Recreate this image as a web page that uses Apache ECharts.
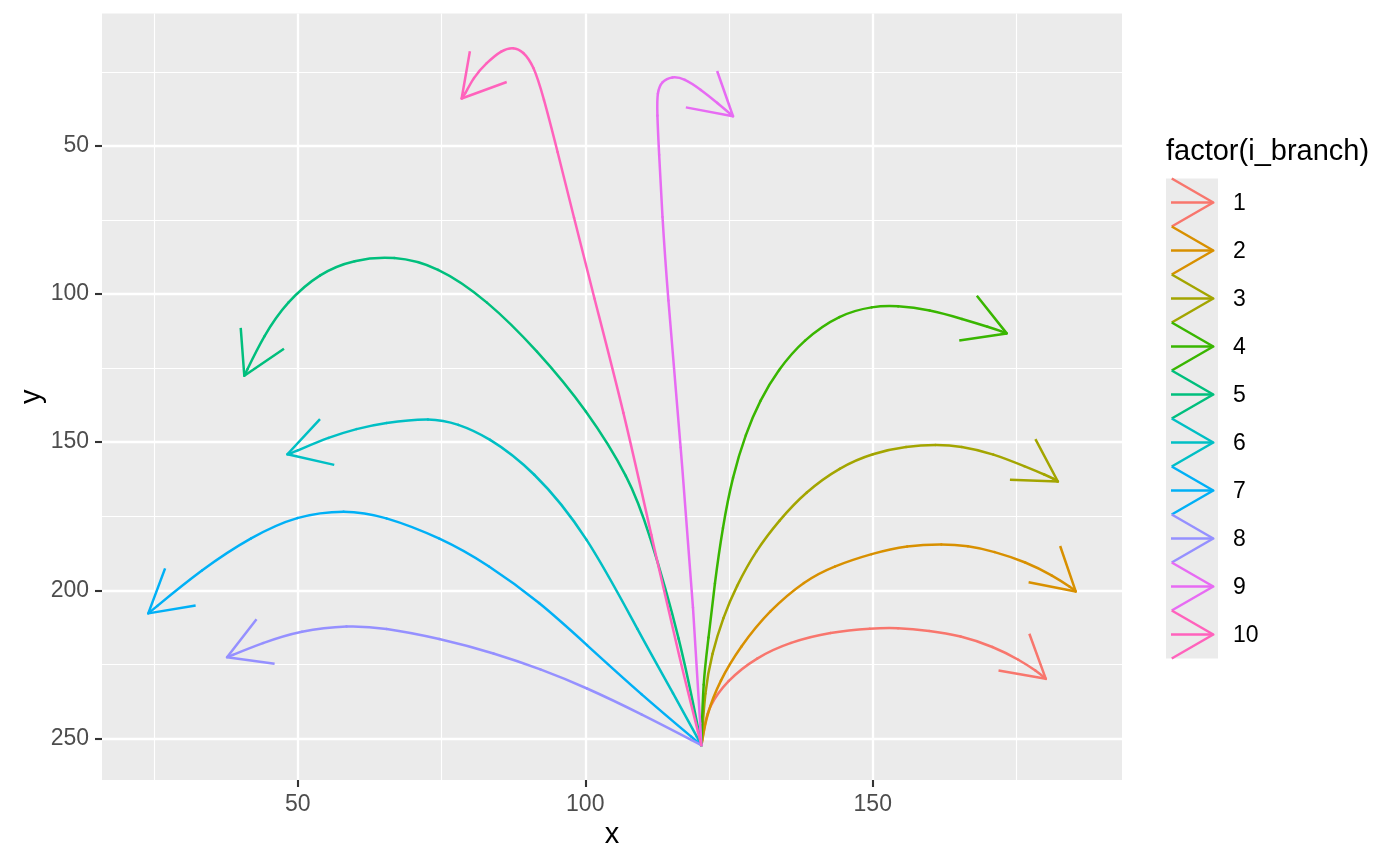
<!DOCTYPE html>
<html>
<head>
<meta charset="utf-8">
<script src="https://cdn.jsdelivr.net/npm/echarts@6/dist/echarts.min.js"></script>
<style>
html,body{margin:0;padding:0;background:#ffffff;}
#chart{width:1400px;height:865px;}
</style>
</head>
<body>
<div id="chart"></div>
<script>
// ---------------- data ----------------
const branchNames = ['1','2','3','4','5','6','7','8','9','10'];
const branchColors = ['#F8766D','#D89000','#A3A500','#39B600','#00BF7D','#00BFC4','#00B0F6','#9590FF','#E76BF3','#FF62BC'];
const xTicks = [50, 100, 150];
const yTicks = [50, 100, 150, 200, 250];
const legendTitle = 'factor(i_branch)';

const branch1 = [[120.2,252.3],[120.8,245.2],[121.4,239.6],[124.6,230.5],[129.8,222.6],[135.6,217.5],[142.6,214.1],[150.0,212.8],[154.1,212.6],[159.9,213.6],[165.2,215.3],[171.0,219.0],[175.6,223.6],[178.5,227.3],[180.1,229.9]];
const branch2 = [[120.2,252.3],[121.1,241.9],[123.4,230.5],[126.9,219.2],[132.0,206.8],[138.3,196.6],[143.0,192.0],[150.0,187.5],[155.9,184.9],[162.3,184.3],[166.5,185.0],[171.0,186.8],[176.7,190.5],[181.3,195.0],[184.65,199.3],[185.3,200.4]];
const branch3 = [[120.2,252.3],[120.8,233.9],[122.0,221.5],[124.0,209.0],[126.2,198.9],[129.7,186.5],[133.7,176.4],[138.3,166.8],[144.3,158.4],[150.0,153.7],[155.9,151.4],[161.1,150.8],[165.2,151.3],[171.0,153.9],[176.7,158.4],[180.2,161.2],[181.46,162.4],[182.2,163.3]];
const branch4 = [[120.2,252.3],[120.5,230.5],[121.4,216.9],[122.5,197.7],[123.9,178.6],[125.6,161.7],[127.9,147.1],[130.4,135.8],[133.5,125.7],[137.9,115.5],[144.3,106.8],[150.1,104.1],[154.1,103.9],[159.9,105.3],[165.7,108.5],[170.4,111.3],[172.49,112.68],[173.3,113.3]];
const branch5 = [[120.2,252.3],[116.6,216.8],[110.8,178.5],[107.8,162.7],[100.3,139.1],[91.6,118.9],[82.9,102.0],[74.2,90.5],[66.7,87.1],[59.7,88.4],[53.9,92.8],[48.1,102.6],[44.1,113.9],[40.7,127.6]];
const branch6 = [[120.2,252.3],[115.4,235.1],[109.7,215.6],[100.2,180.8],[90.9,159.3],[83.0,148.1],[77.8,143.8],[73.3,141.7],[64.8,143.5],[60.2,145.5],[55.7,148.1],[49.03,153.6],[48.2,154.1]];
const branch7 = [[120.2,252.3],[109.6,235.0],[100.0,218.0],[92.2,204.2],[83.0,191.2],[75.0,182.4],[64.8,174.8],[58.3,172.8],[49.8,174.8],[42.0,181.9],[33.5,192.6],[24.0,207.8]];
const branch8 = [[120.2,252.3],[109.6,241.6],[100.0,232.7],[92.2,226.6],[84.35,221.3],[74.6,216.2],[64.8,212.6],[58.9,211.8],[50.4,213.6],[43.9,217.7],[37.7,222.6]];
const branch9 = [[120.2,252.3],[118.9,207.8],[116.6,151.5],[114.2,97.0],[113.4,73.9],[112.8,51.3],[112.5,38.9],[112.5,31.8],[113.3,28.2],[115.1,26.5],[117.2,27.2],[120.1,31.0],[123.0,35.5],[125.7,40.0]];
const branch10 = [[120.2,252.3],[116.6,224.8],[111.4,180.8],[106.8,140.3],[101.2,98.7],[98.0,73.9],[95.1,51.3],[92.7,33.2],[91.0,22.8],[89.2,18.1],[87.5,16.6],[85.5,17.6],[82.8,22.0],[80.5,27.0],[79.06,32.7],[78.5,34.0]];

const branches = [branch1, branch2, branch3, branch4, branch5, branch6, branch7, branch8, branch9, branch10];

// ---------------- layout / style ----------------
const FONT = '"Liberation Sans", Arial, Helvetica, sans-serif';
const LINE_W = 2.5;
const ARROW_LEN = 48;
const ARROW_ANGLE = Math.PI / 6;

const gridBox = {left: 102, top: 13.6, width: 1020, height: 766.4};
const xRange = {min: 15.95, max: 193.35};
const yRange = {min: 5.35, max: 264.05};

function lerp3(a, b, c, wa, wb, wc) {
  return [(a[0] * wa + b[0] * wb + c[0] * wc), (a[1] * wa + b[1] * wb + c[1] * wc)];
}

function makeBranchSeries(b, i) {
  const color = branchColors[i];
  return {
    type: 'custom',
    name: branchNames[i],
    data: b,
    encode: {x: 0, y: 1},
    silent: true,
    animation: false,
    clip: false,
    z: 2 + i * 0.01,
    renderItem: function (params, api) {
      if (params.dataIndex !== 0) return null;
      const pts = b.map(p => api.coord(p));
      const n = pts.length;
      // clamped cubic B-spline drawn as Bezier segments (smooth rendering of the path)
      const Q = [pts[0], pts[0]].concat(pts, [pts[n - 1], pts[n - 1]]);
      const children = [];
      for (let k = 0; k + 3 < Q.length; k++) {
        const a = Q[k], bb = Q[k + 1], c = Q[k + 2], d = Q[k + 3];
        const s = lerp3(a, bb, c, 1 / 6, 4 / 6, 1 / 6);
        const c1 = lerp3(bb, c, c, 2 / 3, 1 / 3, 0);
        const c2 = lerp3(bb, c, c, 1 / 3, 2 / 3, 0);
        const e = lerp3(bb, c, d, 1 / 6, 4 / 6, 1 / 6);
        children.push({
          type: 'bezierCurve',
          shape: {x1: s[0], y1: s[1], x2: e[0], y2: e[1], cpx1: c1[0], cpy1: c1[1], cpx2: c2[0], cpy2: c2[1]},
          style: {stroke: color, lineWidth: LINE_W, fill: null, lineCap: 'round'}
        });
      }
      // open arrow head aligned with the last path segment
      const tip = pts[n - 1], prev = pts[n - 2];
      const ang = Math.atan2(tip[1] - prev[1], tip[0] - prev[0]);
      const p1 = [tip[0] - ARROW_LEN * Math.cos(ang - ARROW_ANGLE), tip[1] - ARROW_LEN * Math.sin(ang - ARROW_ANGLE)];
      const p2 = [tip[0] - ARROW_LEN * Math.cos(ang + ARROW_ANGLE), tip[1] - ARROW_LEN * Math.sin(ang + ARROW_ANGLE)];
      children.push({
        type: 'polyline',
        shape: {points: [p1, tip, p2]},
        style: {stroke: color, lineWidth: LINE_W, fill: null, lineJoin: 'round'}
      });
      return {type: 'group', children: children};
    }
  };
}

// ---------------- legend (drawn as graphics to mimic ggplot keys) ----------------
const LEG = {keyX: 1166, keyW: 52, firstY: 202.5, step: 48, shaftX0: 1171, tipX: 1213.3, labelX: 1233, titleX: 1166, titleY: 152};
const legendGraphics = [];
legendGraphics.push({
  type: 'text', x: LEG.titleX, y: LEG.titleY, silent: true,
  style: {text: legendTitle, font: '29px ' + FONT, fill: '#000000', align: 'left', verticalAlign: 'middle', textAlign: 'left', textVerticalAlign: 'middle'}
});
legendGraphics.push({
  type: 'rect', silent: true,
  shape: {x: LEG.keyX, y: LEG.firstY - LEG.step / 2, width: LEG.keyW, height: LEG.step * branchNames.length},
  style: {fill: '#EBEBEB'}
});
branchNames.forEach((name, i) => {
  const yc = LEG.firstY + i * LEG.step;
  const dx = ARROW_LEN * Math.cos(ARROW_ANGLE);
  const dy = ARROW_LEN * Math.sin(ARROW_ANGLE);
  legendGraphics.push({
    type: 'polyline', silent: true,
    shape: {points: [[LEG.shaftX0, yc], [LEG.tipX, yc]]},
    style: {stroke: branchColors[i], lineWidth: LINE_W, fill: null}
  });
  legendGraphics.push({
    type: 'polyline', silent: true,
    shape: {points: [[LEG.tipX - dx, yc - dy], [LEG.tipX, yc], [LEG.tipX - dx, yc + dy]]},
    style: {stroke: branchColors[i], lineWidth: LINE_W, fill: null, lineJoin: 'round'}
  });
  legendGraphics.push({
    type: 'text', x: LEG.labelX, y: yc + 1, silent: true,
    style: {text: name, font: '23px ' + FONT, fill: '#000000', align: 'left', verticalAlign: 'middle', textAlign: 'left', textVerticalAlign: 'middle'}
  });
});

// ---------------- chart ----------------
const chart = echarts.init(document.getElementById('chart'), null, {renderer: 'canvas'});
const axisCommon = {
  type: 'value',
  minInterval: 50,
  maxInterval: 50,
  nameLocation: 'middle',
  nameMoveOverlap: false,
  nameTextStyle: {fontFamily: FONT, fontSize: 29, color: '#000000'},
  axisLine: {show: false},
  axisTick: {show: true, length: 7, lineStyle: {color: '#333333', width: 2.1}},
  axisLabel: {margin: 13, color: '#4D4D4D', fontSize: 23, fontFamily: FONT},
  splitLine: {show: true, lineStyle: {color: '#FFFFFF', width: 2.3}},
  minorTick: {show: false, splitNumber: 2},
  minorSplitLine: {show: true, lineStyle: {color: '#FFFFFF', width: 1.15}}
};

chart.setOption({
  animation: false,
  backgroundColor: '#FFFFFF',
  textStyle: {fontFamily: FONT},
  grid: {
    left: gridBox.left, top: gridBox.top, width: gridBox.width, height: gridBox.height,
    show: true, backgroundColor: '#EBEBEB', borderWidth: 0, containLabel: false, outerBoundsMode: 'none'
  },
  xAxis: Object.assign({}, axisCommon, {
    min: xRange.min, max: xRange.max,
    name: 'x', nameGap: 40,
    axisTick: Object.assign({}, axisCommon.axisTick, {customValues: xTicks}),
    axisLabel: Object.assign({}, axisCommon.axisLabel, {customValues: xTicks})
  }),
  yAxis: Object.assign({}, axisCommon, {
    min: yRange.min, max: yRange.max, inverse: true,
    name: 'y', nameGap: 56,
    axisTick: Object.assign({}, axisCommon.axisTick, {customValues: yTicks}),
    axisLabel: Object.assign({}, axisCommon.axisLabel, {customValues: yTicks})
  }),
  graphic: {elements: legendGraphics},
  series: branches.map(makeBranchSeries)
});
</script>
</body>
</html>
